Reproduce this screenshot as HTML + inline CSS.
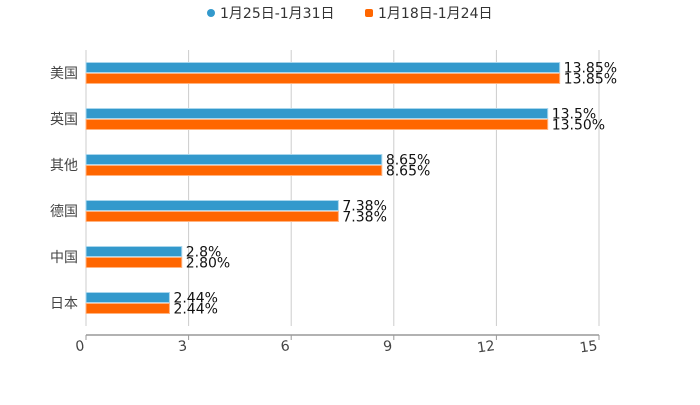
<!DOCTYPE html>
<html><head><meta charset="utf-8"><style>
body{margin:0;background:#fff;width:700px;height:400px;overflow:hidden}
svg text{font-family:"DejaVu Sans","Noto Sans CJK SC",sans-serif}
</style></head><body>
<svg id="c" width="700" height="400">
<g>
<circle cx="211" cy="13" r="4" fill="#3399cc"/>
<text x="220" y="18" font-size="14" fill="#333">1月25日-1月31日</text>
<rect x="365" y="9" width="8" height="8" rx="2" fill="#ff6600"/>
<text x="378" y="18" font-size="14" fill="#333">1月18日-1月24日</text>
</g>
<g id="grid"></g><g id="bars"></g><g id="axis"></g>
</svg>
<script>
const categories=["美国","英国","其他","德国","中国","日本"];
const seriesA=[13.85,13.5,8.65,7.38,2.8,2.44];
const labelsA=["13.85%","13.5%","8.65%","7.38%","2.8%","2.44%"];
const seriesB=[13.85,13.5,8.65,7.38,2.8,2.44];
const labelsB=["13.85%","13.50%","8.65%","7.38%","2.80%","2.44%"];
const ticks=[0,3,6,9,12,15];
const NS="http://www.w3.org/2000/svg";
const X0=86,X1=599,TOP=50,BOTTOM=326;
const xs=v=>X0+(v/15)*(X1-X0);
const band=(BOTTOM-TOP)/categories.length;
const yc=i=>TOP+band*(i+0.5);
function mk(t,a,p){const e=document.createElementNS(NS,t);for(const k in a)e.setAttribute(k,a[k]);p.appendChild(e);return e;}
const g=document.getElementById('grid'),b=document.getElementById('bars'),ax=document.getElementById('axis');
ticks.forEach(t=>{
 const l=mk('line',{x1:xs(t),x2:xs(t),y1:TOP,y2:BOTTOM,stroke:'#ccc','stroke-width':1},g);
 
 
 const tk=mk('line',{x1:xs(t),x2:xs(t),y1:335,y2:340,stroke:'#999'},ax);
 
 
 const tx=mk('text',{x:xs(t)-1,y:350,'font-size':14,fill:'#444','text-anchor':'end',transform:`rotate(-8 ${xs(t)-1} 350)`},ax);
 tx.textContent=t;
 
 
});
const al=mk('line',{x1:X0,x2:X1,y1:335,y2:335,stroke:'#999','stroke-width':1.5},ax);


categories.forEach((c,i)=>{
 const y=yc(i);
 const cl=mk('text',{x:78,y:y+5,'font-size':14,fill:'#444','text-anchor':'end'},ax);
 cl.textContent=c;
 
 
 const ra=mk('rect',{x:X0,y:y-10.5,width:xs(seriesA[i])-X0,height:10,fill:'#3399cc',stroke:'#a9d6ec','stroke-width':1},b);
 
 
 const rb=mk('rect',{x:X0,y:y+0.5,width:xs(seriesB[i])-X0,height:10,fill:'#ff6600',stroke:'#ffb380','stroke-width':1},b);
 
 
 const ta=mk('text',{x:xs(seriesA[i])+4,y:y-0.5,'font-size':14,fill:'#111'},b);
 ta.textContent=labelsA[i];
 
 
 const tb=mk('text',{x:xs(seriesB[i])+4,y:y+10.5,'font-size':14,fill:'#111'},b);
 tb.textContent=labelsB[i];
 
 
});
</script>
</body></html>
